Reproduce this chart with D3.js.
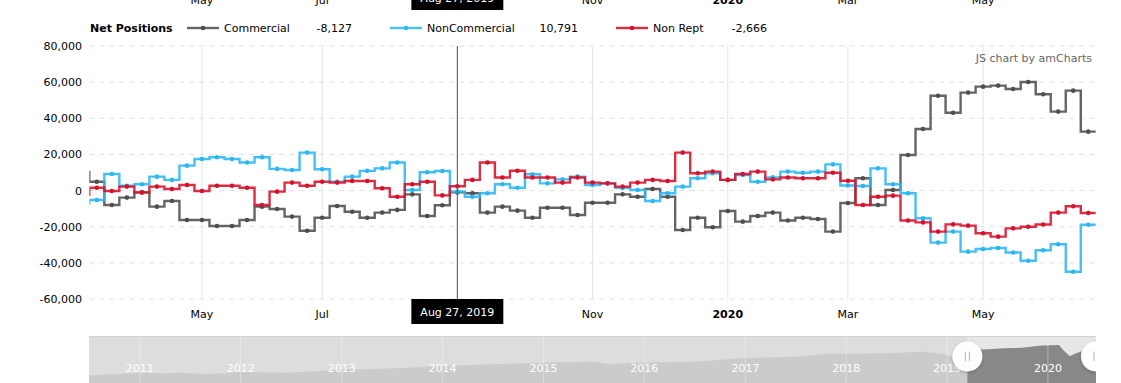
<!DOCTYPE html>
<html><head><meta charset="utf-8">
<script src="https://cdnjs.cloudflare.com/ajax/libs/d3/7.8.5/d3.min.js"></script>
<style>
html,body{margin:0;padding:0;background:#fff;overflow:hidden}
svg{display:block;font-family:"DejaVu Sans",Verdana,sans-serif;font-size:11px}
</style>
</head><body>
<svg id="c" width="1121" height="383"></svg>
<script>
// ---------- data ----------
const dates = [
"2019-03-12","2019-03-19","2019-03-26","2019-04-02","2019-04-09","2019-04-16","2019-04-23","2019-04-30",
"2019-05-07","2019-05-14","2019-05-21","2019-05-28","2019-06-04","2019-06-11","2019-06-18","2019-06-25",
"2019-07-02","2019-07-09","2019-07-16","2019-07-23","2019-07-30","2019-08-06","2019-08-13","2019-08-20",
"2019-08-27","2019-09-03","2019-09-10","2019-09-17","2019-09-24","2019-10-01","2019-10-08","2019-10-15",
"2019-10-22","2019-10-29","2019-11-05","2019-11-12","2019-11-19","2019-11-26","2019-12-03","2019-12-10",
"2019-12-17","2019-12-24","2019-12-31","2020-01-07","2020-01-14","2020-01-21","2020-01-28","2020-02-04",
"2020-02-11","2020-02-18","2020-02-25","2020-03-03","2020-03-10","2020-03-17","2020-03-24","2020-03-31",
"2020-04-07","2020-04-14","2020-04-21","2020-04-28","2020-05-05","2020-05-12","2020-05-19","2020-05-26",
"2020-06-02","2020-06-09","2020-06-16","2020-06-23"];

const commercial = [10300,4900,-8000,-3900,-1000,-8900,-5800,-16300,-16300,-19600,-19600,-16300,-8900,-10200,-14400,-22200,
-15000,-8500,-11700,-15000,-12200,-10700,-2100,-14100,-8127,-1000,-1500,-12200,-8900,-11100,-15000,-9500,
-9500,-13500,-6700,-6700,-2100,-3400,900,-3400,-21800,-15000,-20300,-11300,-17200,-14100,-12200,-16600,
-15000,-15700,-22700,-6900,6800,-8000,300,19700,34100,52500,43100,54200,57500,58100,56200,60100,
53300,43700,55300,32600];

const nonCommercial = [-7000,-5200,9200,2700,3500,7700,5900,13800,17500,18400,17500,15500,18400,12000,11400,21000,
11800,4900,7700,10900,12300,15500,300,10100,10791,-600,-3400,-1500,3500,1600,9000,4000,
6200,7700,3100,4000,1600,300,-5800,-1500,2200,6800,9600,5900,8600,4900,7300,10500,
9900,10500,14500,2800,2500,12300,3500,-1500,-15300,-28800,-22700,-33800,-32300,-31800,-34300,-38800,
-33000,-29700,-44900,-18900];

const nonRept = [-2400,1600,-200,2200,-1000,2200,900,3100,-200,2700,2700,1600,-8000,-600,4400,2700,
4900,4400,5300,5300,1300,-3400,3500,4900,-2666,2400,5900,15500,7200,11000,7200,7200,
4400,7200,4400,4000,2200,4400,5900,5300,21000,9600,10500,5900,9200,10500,6200,7200,
6800,6800,9900,5400,-8000,-3400,-2800,-16600,-17600,-22700,-18700,-19400,-23600,-25500,-20900,-20000,
-18800,-12200,-8700,-12400];

const seriesNames = ["Commercial", "NonCommercial", "Non Rept"];
const seriesColors = ["#4e4e4e", "#2cb6f4", "#d5112b"];
const legendTitle = "Net Positions";

const yTicks = [-60000, -40000, -20000, 0, 20000, 40000, 60000, 80000];
const xTickDates = ["2019-05-07","2019-07-02","2019-09-03","2019-11-05","2020-01-07","2020-03-03","2020-05-05"];
const xTickLabels = ["May","Jul","Sep","Nov","2020","Mar","May"];
const xTickBold = [false,false,false,false,true,false,false];
const cursorDate = "2019-08-27";
const cursorLabel = "Aug 27, 2019";
const creditText = "JS chart by amCharts";

// scrollbar overview graph
const scrollDates = ["2010-07-01","2010-10-01","2011-01-01","2011-04-01","2011-06-01","2011-09-01","2011-11-01",
"2012-01-01","2012-06-01","2012-10-01","2013-01-01","2013-07-01","2014-01-01","2014-07-01","2015-01-01",
"2015-07-01","2015-09-01","2015-11-01","2016-01-01","2016-07-01","2017-01-01","2017-07-01","2017-11-01",
"2018-01-01","2018-07-01","2018-10-01","2018-12-15","2019-01-15","2019-03-01","2019-06-01","2019-08-01",
"2019-10-01","2019-12-01","2020-02-10","2020-02-25","2020-03-20","2020-04-10","2020-05-01","2020-06-23"];
const scrollValues = [16,19,22,21,22,19,21,24,22,25,28,31,36,40,43,45,40,42,43,45,53,56,63,62,64,67,62,56,70,72,74,75,79,81,70,57,63,67,69];
const scrollYears = [2011,2012,2013,2014,2015,2016,2017,2018,2019,2020];

// ---------- layout ----------
const plot = {left: 89.3, right: 1095.8, top: 46, bottom: 299};
const parse = d3.timeParse("%Y-%m-%d");
const D = dates.map(parse);
const halfWeek = 3.5 * 864e5;
const svg = d3.select("#c");

const x = d3.scaleTime()
  .domain([new Date(+D[1] - halfWeek), new Date(+D[D.length - 1] + halfWeek)])
  .range([plot.left, plot.right]);
const y = d3.scaleLinear().domain([-60000, 80000]).range([plot.bottom, plot.top]);
const fmt = d3.formatLocale({decimal: ".", thousands: ",", grouping: [3], currency: ["", ""], minus: "-"}).format(",");

const defs = svg.append("defs");
defs.append("clipPath").attr("id", "plotClip").append("rect")
  .attr("x", plot.left).attr("y", plot.top - 10)
  .attr("width", plot.right - plot.left).attr("height", plot.bottom - plot.top + 20);

// horizontal dashed grid + y labels
const yAxis = svg.append("g");
yTicks.forEach(t => {
  yAxis.append("line").attr("x1", plot.left).attr("x2", plot.right)
    .attr("y1", y(t)).attr("y2", y(t))
    .attr("stroke", "#e2e2e2").attr("stroke-dasharray", "5,5");
  yAxis.append("text").attr("x", 82).attr("y", y(t) + 4)
    .attr("text-anchor", "end").attr("fill", "#000").text(fmt(t));
});

// vertical grid
const xt = xTickDates.map(parse);
svg.append("g").selectAll("line").data(xt).join("line")
  .attr("x1", d => x(d)).attr("x2", d => x(d))
  .attr("y1", plot.top).attr("y2", plot.bottom)
  .attr("stroke", "#e4e4e4");

// series
const hw = (x(D[2]) - x(D[1])) / 2;
const seriesData = [commercial, nonCommercial, nonRept];
const gSeries = svg.append("g").attr("clip-path", "url(#plotClip)");
const line = d3.line();
seriesData.forEach((vals, s) => {
  const pts = vals.flatMap((v, i) => [[x(D[i]) - hw, y(v)], [x(D[i]) + hw, y(v)]]);
  gSeries.append("path").attr("d", line(pts)).attr("fill", "none")
    .attr("stroke", seriesColors[s]).attr("stroke-width", 2.4)
    .attr("stroke-opacity", 0.88).attr("stroke-linejoin", "miter");
});
seriesData.forEach((vals, s) => {
  gSeries.append("g").selectAll("circle").data(vals.slice(1)).join("circle")
    .attr("cx", (v, i) => x(D[i + 1])).attr("cy", v => y(v)).attr("r", 2.3)
    .attr("fill", seriesColors[s]);
});

// cursor
const cIdx = dates.indexOf(cursorDate);
const cx = x(D[cIdx + 1]);
svg.append("line").attr("x1", cx).attr("x2", cx).attr("y1", plot.top).attr("y2", plot.bottom)
  .attr("stroke", "#555").attr("stroke-width", 1);

// axis label rows (main axis and the cut-off row from the chart above)
function axisRow(baseY, boxTop, boxBottom) {
  const g = svg.append("g");
  const tmp = g.append("text").text(cursorLabel);
  const tw = tmp.node().getComputedTextLength();
  tmp.remove();
  const bw = tw + 18;
  xt.forEach((d, i) => {
    const px = x(d);
    if (Math.abs(px - cx) < bw / 2 + 10) return; // hidden under cursor balloon
    g.append("text").attr("x", px).attr("y", baseY).attr("text-anchor", "middle")
      .attr("font-weight", xTickBold[i] ? "bold" : "normal").attr("fill", "#000")
      .text(xTickLabels[i]);
  });
  g.append("rect").attr("x", cx - bw / 2).attr("y", boxTop)
    .attr("width", bw).attr("height", boxBottom - boxTop).attr("fill", "#000");
  g.append("text").attr("x", cx).attr("y", (boxTop + boxBottom) / 2 + 4)
    .attr("text-anchor", "middle").attr("fill", "#fff").text(cursorLabel);
}
axisRow(318, 299, 324);
axisRow(4, -15, 10);

// legend
const leg = svg.append("g");
leg.append("text").attr("x", 90).attr("y", 32).attr("font-weight", "bold").attr("fill", "#000").text(legendTitle);
const legX = [187, 390, 616];
const legValRight = [352, 578, 767];
seriesData.forEach((vals, s) => {
  const lx = legX[s];
  leg.append("line").attr("x1", lx).attr("x2", lx + 32).attr("y1", 28).attr("y2", 28)
    .attr("stroke", seriesColors[s]).attr("stroke-width", 2.4).attr("stroke-opacity", 0.88);
  leg.append("circle").attr("cx", lx + 16).attr("cy", 28).attr("r", 2.3).attr("fill", seriesColors[s]);
  leg.append("text").attr("x", lx + 37).attr("y", 32).attr("fill", "#000").text(seriesNames[s]);
  leg.append("text").attr("x", legValRight[s]).attr("y", 32).attr("text-anchor", "end")
    .attr("fill", "#000").text(fmt(vals[cIdx]));
});

// credit
svg.append("text").attr("x", 1092).attr("y", 62).attr("text-anchor", "end")
  .attr("fill", "#666").text(creditText);

// ---------- scrollbar ----------
const sb = {left: 89, right: 1096, top: 336, bottom: 392};
const SD = scrollDates.map(parse);
const sx = d3.scaleTime().domain([parse("2010-07-01"), parse("2020-06-23")]).range([sb.left, sb.right]);
const sy = d3.scaleLinear().domain([0, 100]).range([383, 336]);
const selL = sx(x.domain()[0]), selR = Math.min(sb.right, sx(x.domain()[1]));

defs.append("clipPath").attr("id", "sbClip").append("rect")
  .attr("x", sb.left).attr("y", sb.top).attr("width", sb.right - sb.left).attr("height", sb.bottom - sb.top);
defs.append("clipPath").attr("id", "selClip").append("rect")
  .attr("x", selL).attr("y", sb.top).attr("width", selR - selL).attr("height", sb.bottom - sb.top);
const sh = defs.append("filter").attr("id", "gripShadow").attr("x", "-50%").attr("y", "-50%").attr("width", "200%").attr("height", "200%");
sh.append("feDropShadow").attr("dx", 0).attr("dy", 1).attr("stdDeviation", 1.5).attr("flood-color", "#000").attr("flood-opacity", 0.25);

const gs = svg.append("g").attr("clip-path", "url(#sbClip)");
gs.append("rect").attr("x", sb.left).attr("y", sb.top).attr("width", sb.right - sb.left)
  .attr("height", sb.bottom - sb.top).attr("fill", "#dddddd");
gs.append("rect").attr("x", selL).attr("y", sb.top).attr("width", selR - selL)
  .attr("height", sb.bottom - sb.top).attr("fill", "#e7e7e7");
const area = d3.area().x((v, i) => sx(SD[i])).y0(sb.bottom).y1(v => sy(v));
gs.append("path").attr("d", area(scrollValues)).attr("fill", "#cbcbcb");
gs.append("path").attr("d", area(scrollValues)).attr("fill", "#888888").attr("clip-path", "url(#selClip)");
gs.append("line").attr("x1", sb.left).attr("x2", sb.right).attr("y1", sb.top + 0.5).attr("y2", sb.top + 0.5)
  .attr("stroke", "#d2d2d2");
scrollYears.forEach(yr => {
  const px = sx(new Date(yr, 0, 1));
  gs.append("line").attr("x1", px).attr("x2", px).attr("y1", sb.top + 1).attr("y2", sb.bottom)
    .attr("stroke", "#ffffff").attr("stroke-opacity", 0.35);
  gs.append("text").attr("x", px).attr("y", 371.5).attr("text-anchor", "middle")
    .attr("fill", "#ffffff").text(yr);
});
[selL, selR].forEach(gx => {
  const gg = gs.append("g");
  gg.append("circle").attr("cx", gx).attr("cy", 356.5).attr("r", 15).attr("fill", "#fff")
    .attr("filter", "url(#gripShadow)");
  [-2, 2].forEach(o => gg.append("line").attr("x1", gx + o).attr("x2", gx + o)
    .attr("y1", 351.5).attr("y2", 361).attr("stroke", "#b5b5b5").attr("stroke-width", 1));
});
</script>
</body></html>
